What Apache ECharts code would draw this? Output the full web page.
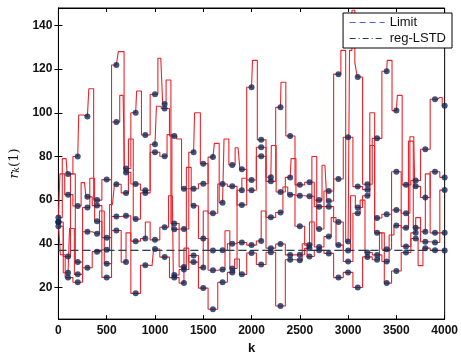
<!DOCTYPE html>
<html><head><meta charset="utf-8">
<script src="https://cdn.jsdelivr.net/npm/echarts@6/dist/echarts.min.js"></script>
<style>html,body{margin:0;padding:0;background:#fff}#c{width:461px;height:360px}</style>
</head><body><div id="c"></div>
<script>
// k positions of the sampled (dotted) points
const kValues = [0,100,200,300,400,500,600,700,800,900,1000,1100,1200,1300,1400,1500,1600,1700,1800,1900,2000,2100,2200,2300,2400,2500,2600,2700,2800,2900,3000,3100,3200,3300,3400,3500,3600,3700,3800,3900,4000];
const xTicks = [0,500,1000,1500,2000,2500,3000,3500,4000];
const yTicks = [20,40,60,80,100,120,140];

// five trajectories: values at the dotted samples
const trajA = [52,72,80,98.3,60,69.4,121.9,74.5,100,89.8,108.5,104,49.3,46.8,81.9,76.7,54,67.4,66.3,57.8,111.7,87.6,68.6,102.5,89.4,67,68.2,57,64.2,117.7,41,116.4,67.3,88.3,119,101,67,69,83.3,106.2,103.2];
const trajB = [50,62.5,57.3,61.5,57.5,42.8,95.8,72.7,67.4,64.5,85.6,102,89.4,65.2,65.2,67.5,79.7,58.8,76.1,74.1,69.2,84.2,70.5,63.7,70.4,62,61.8,60,59.6,69.7,88.8,66.2,64.8,51.8,53.5,73,54,66.3,61.2,73,70.4];
const trajC = [50,34.2,31.6,56.6,50.3,37.3,67.3,63.3,51.3,63.3,81.9,80.1,46.6,29.4,57.4,42.4,36.9,37,40,64.5,64.5,80.1,52.1,54.3,62.5,48,39.4,46.8,57,50,36.9,56.6,62,45,37.5,55.5,47.3,47.3,45.5,45,64.6];
const trajD = [48,26.7,26,45.5,44.6,30.9,52.5,52.8,41.2,42.4,41.8,47.6,25.7,28.2,34.6,29.1,27.9,28.2,28.7,40.6,39.4,41.3,38,39.9,34.9,35,37.9,38.5,43.3,39.4,31.9,54,36,34.9,31.9,48.4,38.8,45,40.9,40.6,45];
const trajE = [50,24.5,22.4,29,36.4,24.6,46.1,31.6,17.3,30.2,37.6,33.9,24.5,22,31.6,19.7,10,22.4,26.9,26,35.8,30.5,36.1,11.5,32.7,32.5,34.2,37,35.6,24.5,26.9,20,34,32.7,22,27.5,36,42.4,38,37,36.9];

// excursions of the red traces between samples: [k, value]
const spikesA = [[80,79],[220,99],[330,111],[640,128],[660,128],[820,110],[1060,125],[1130,115],[1420,100],[1440,100],[2020,124],[2310,114],[2950,128.6],[3030,128.6],[3050,147],[3090,123],[3410,124],[3520,108],[3950,107]];
const spikesB = [[30,72],[270,68],[670,108],[1030,103],[1250,88],[1630,86],[1730,88],[1860,84],[2210,85],[2420,79],[2760,76],[3250,100],[3680,89]];
const spikesC = [[150,72],[350,70],[560,58],[750,88],[1150,90],[1350,75],[1900,70],[2350,66],[2650,80],[3050,62],[3250,85],[3650,87],[3800,72]];
const spikesD = [[130,47],[450,55],[900,50],[1180,62],[1500,55],[1750,46],[2100,55],[2600,50],[2850,52],[3150,60],[3450,44],[3700,52]];
const spikesE = [[40,35],[700,45],[970,30],[1300,38],[1850,33],[2550,40],[3350,45],[3750,30]];

const limitValue = 37;
const regLSTDValue = 37;

function pairs(vals){ return kValues.map((k,i)=>[k, vals[i]]); }
function trace(vals, spikes){ return pairs(vals).concat(spikes).sort((a,b)=>a[0]-b[0]); }

const trajs = [[trajA,spikesA],[trajB,spikesB],[trajC,spikesC],[trajD,spikesD],[trajE,spikesE]];
const series = [];
trajs.forEach(([v,s],i)=>{
  series.push({type:'line', name:'traj'+i, data:trace(v,s), step:'middle', showSymbol:false, symbol:'none',
    lineStyle:{color:'#e8252d', width:1.1}, z:2, silent:true});
});
trajs.forEach(([v],i)=>{
  series.push({type:'scatter', name:'dots'+i, data:pairs(v), symbol:'circle', symbolSize:6,
    itemStyle:{color:'#102a56'}, z:5, silent:true});
});
series.push({type:'line', name:'Limit', data:[[0,limitValue],[4000,limitValue]], symbol:'none', showSymbol:false,
  itemStyle:{color:'#4a5fd8', opacity:0}, lineStyle:{color:'#4a5fd8', width:1, type:[8,4], opacity:1}, z:3});
series.push({type:'line', name:'reg-LSTD', data:[[0,regLSTDValue],[4000,regLSTDValue]], symbol:'none', showSymbol:false,
  itemStyle:{color:'#1f4a2a', opacity:0}, lineStyle:{color:'#1f3a25', width:1, type:[8,4], opacity:1}, z:4});

const font = 'Liberation Sans, Arial, sans-serif';
const chart = echarts.init(document.getElementById('c'));
chart.setOption({
  animation:false,
  grid:{left:52, right:9, top:8, bottom:35, show:true, borderColor:'#000', borderWidth:1},
  legend:{data:[{name:'Limit', itemStyle:{opacity:0}, lineStyle:{type:[6,4], color:'#4a5fd8', width:1.2}},
                {name:'reg-LSTD', itemStyle:{opacity:0}, lineStyle:{type:[6,3,1,3], color:'#1f4a2a', width:1.2}}],
    orient:'vertical', right:9, top:13, itemWidth:35, itemHeight:8, itemGap:3,
    borderColor:'#000', borderWidth:1, backgroundColor:'#fff', padding:[3,6,3,6],
    textStyle:{fontFamily:font, fontSize:13, color:'#111'}},
  xAxis:[
    {type:'value', min:0, max:4000, interval:500, name:'k', nameLocation:'middle', nameGap:22,
     nameTextStyle:{fontFamily:font, fontSize:13, fontWeight:'bold', color:'#111'},
     axisLine:{lineStyle:{color:'#000'}}, axisTick:{inside:true, length:4, lineStyle:{color:'#000'}},
     axisLabel:{fontFamily:font, fontSize:12, fontWeight:'bold', color:'#111', margin:6, formatter:(v)=>String(v)}, splitLine:{show:false}},
    {type:'value', min:0, max:4000, interval:500, position:'top',
     axisLine:{lineStyle:{color:'#000'}}, axisTick:{inside:true, length:4, lineStyle:{color:'#000'}},
     axisLabel:{show:false}, splitLine:{show:false}}
  ],
  yAxis:[
    {type:'value', min:5.5, max:148, name:'{i|r}{s|k}{n|(1)}', nameLocation:'middle', nameGap:32,
     nameTextStyle:{rich:{i:{fontFamily:'DejaVu Serif, serif', fontStyle:'italic', fontSize:13, color:'#111'},
       s:{fontFamily:'DejaVu Serif, serif', fontStyle:'italic', fontSize:9, color:'#111', padding:[5,0,0,0]},
       n:{fontFamily:'DejaVu Serif, serif', fontSize:13, color:'#111'}}},
     axisLine:{lineStyle:{color:'#000'}},
     axisTick:{inside:true, length:4, customValues:yTicks, lineStyle:{color:'#000'}},
     axisLabel:{customValues:yTicks, fontFamily:font, fontSize:12, fontWeight:'bold', color:'#111', margin:6},
     splitLine:{show:false}},
    {type:'value', min:5.5, max:148, position:'right',
     axisLine:{lineStyle:{color:'#000'}},
     axisTick:{inside:true, length:4, customValues:yTicks, lineStyle:{color:'#000'}},
     axisLabel:{show:false}, splitLine:{show:false}}
  ],
  series: series
});
</script>
</body></html>
